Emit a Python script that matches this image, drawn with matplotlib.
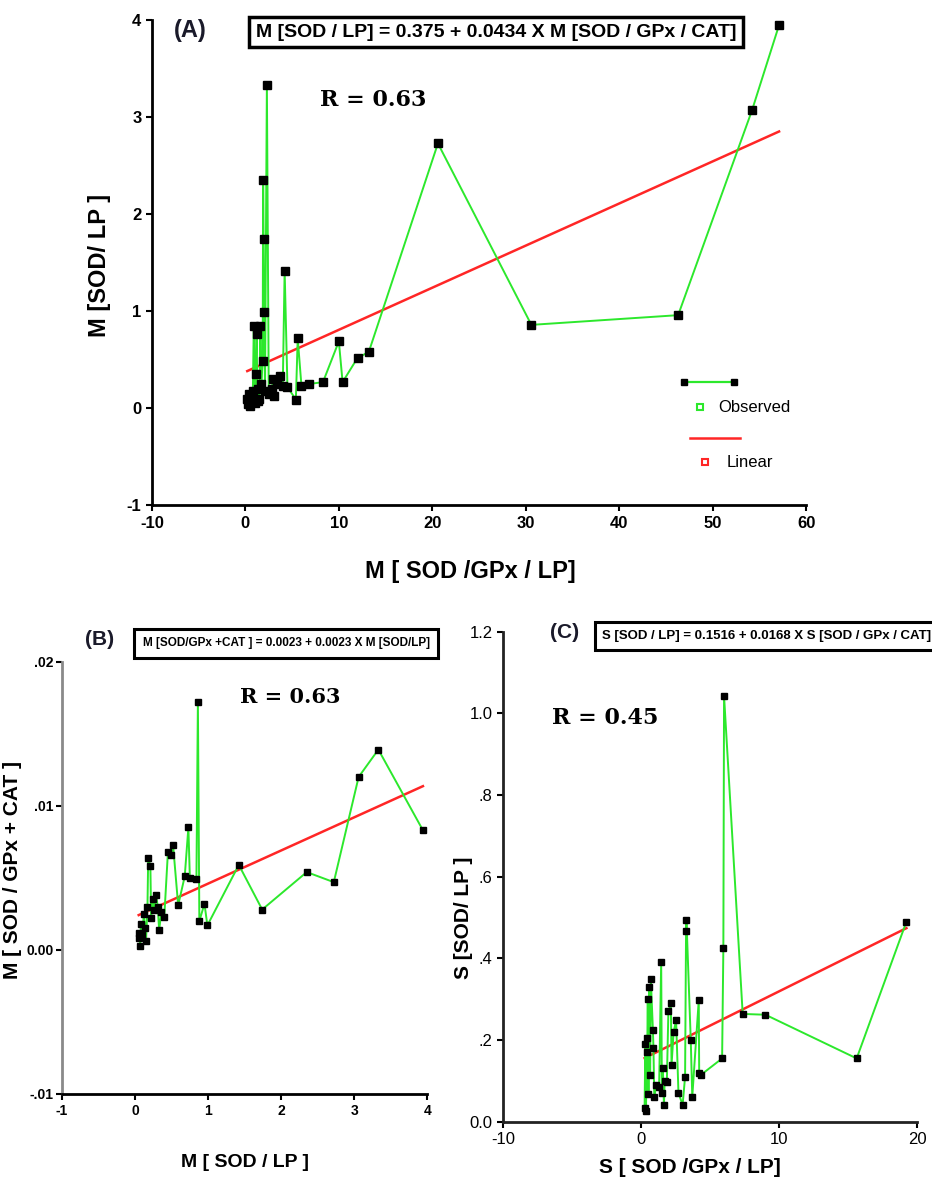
import matplotlib
matplotlib.use("Agg")
import matplotlib.pyplot as plt
import numpy as np

plt.rcParams["axes.unicode_minus"] = False

# panel A : M[SOD/GPx/LP] vs M[SOD/LP]
a_x = [0.2, 0.3, 0.4, 0.5, 0.6, 0.7, 0.8, 0.9, 1.0, 1.1,
       1.2, 1.3, 1.4, 1.5, 1.6, 1.7, 1.85, 1.9, 1.95, 2.0,
       2.1, 2.3, 2.5, 2.8, 3.0, 3.1, 3.4, 3.75, 4.0, 4.2,
       4.5, 5.4, 5.6, 6.0, 6.8, 8.3, 10.0, 10.4, 12.0, 13.2,
       20.6, 30.6, 46.3, 54.2, 57.1]
a_y = [0.10, 0.04, 0.15, 0.02, 0.12, 0.06, 0.18, 0.85, 0.05, 0.35,
       0.77, 0.08, 0.20, 0.10, 0.85, 0.25, 0.49, 2.35, 1.75, 0.99,
       0.18, 3.33, 0.15, 0.20, 0.30, 0.13, 0.25, 0.33, 0.23, 1.42,
       0.22, 0.09, 0.72, 0.23, 0.25, 0.27, 0.69, 0.27, 0.52, 0.58,
       2.73, 0.86, 0.96, 3.07, 3.95]
a_fit = (0.375, 0.0434)

# panel B : M[SOD/LP] vs M[SOD/GPx + CAT]
b_x = [0.05, 0.06, 0.07, 0.08, 0.10, 0.12, 0.14, 0.15, 0.17, 0.18,
       0.21, 0.22, 0.24, 0.26, 0.29, 0.31, 0.33, 0.36, 0.40, 0.45,
       0.49, 0.52, 0.59, 0.68, 0.73, 0.75, 0.84, 0.86, 0.88, 0.95,
       0.99, 1.42, 1.74, 2.35, 2.72, 3.06, 3.33, 3.94]
b_y = [0.0008, 0.0012, 0.0003, 0.0018, 0.0010, 0.0025, 0.0015, 0.0006, 0.0030, 0.0064,
       0.0058, 0.0022, 0.0035, 0.0028, 0.0038, 0.0030, 0.0014, 0.0026, 0.0023, 0.0068,
       0.0066, 0.0073, 0.0031, 0.0051, 0.0085, 0.0050, 0.0049, 0.0172, 0.0020, 0.0032,
       0.0017, 0.0059, 0.0028, 0.0054, 0.0047, 0.0120, 0.0139, 0.0083]
b_fit = (0.0023, 0.0023)

# panel C : S[SOD/GPx/LP] vs S[SOD/LP]
c_x = [0.25, 0.30, 0.35, 0.40, 0.45, 0.48, 0.53, 0.58, 0.65, 0.70,
       0.85, 0.89, 0.95, 1.10, 1.30, 1.45, 1.50, 1.57, 1.65, 1.70,
       1.86, 1.97, 2.15, 2.20, 2.35, 2.53, 2.70, 3.00, 3.18, 3.25,
       3.28, 3.59, 3.70, 4.17, 4.20, 4.30, 5.86, 5.95, 6.00, 7.35,
       9.00, 15.6, 19.2]
c_y = [0.034, 0.19, 0.025, 0.17, 0.204, 0.30, 0.069, 0.33, 0.114, 0.349,
       0.225, 0.18, 0.06, 0.09, 0.085, 0.392, 0.07, 0.131, 0.04, 0.10,
       0.098, 0.27, 0.29, 0.139, 0.22, 0.248, 0.071, 0.041, 0.11, 0.468,
       0.494, 0.20, 0.061, 0.298, 0.12, 0.114, 0.155, 0.425, 1.043, 0.264,
       0.262, 0.155, 0.49]
c_fit = (0.1516, 0.0168)

GREEN = "#2ce82c"
RED = "#ff2626"
SANS = ["Liberation Sans", "DejaVu Sans"]
SERIF = ["DejaVu Serif"]

fig = plt.figure(figsize=(9.32, 11.89), dpi=100)


def draw(ax, x, y, fit, msize, lw_fit):
    ax.plot(x, y, color=GREEN, lw=1.4, marker="s", ms=msize,
            mfc="black", mec="black", zorder=3)
    xs = np.array([min(x), max(x)])
    ax.plot(xs, fit[0] + fit[1] * xs, color=RED, lw=lw_fit, zorder=2)
    for s in ["top", "right"]:
        ax.spines[s].set_visible(False)
    ax.tick_params(direction="out", length=4, width=1.5)


# ---------- panel A
axA = fig.add_axes([0.163, 0.575, 0.702, 0.408])
draw(axA, a_x, a_y, a_fit, 6, 1.8)
axA.set_xlim(-10, 60)
axA.set_ylim(-1, 4)
axA.set_xticks([-10, 0, 10, 20, 30, 40, 50, 60])
axA.set_yticks([-1, 0, 1, 2, 3, 4])
for s in ["left", "bottom"]:
    axA.spines[s].set_linewidth(2)
for lab in axA.get_xticklabels() + axA.get_yticklabels():
    lab.set_fontfamily(SANS)
    lab.set_fontweight("bold")
    lab.set_fontsize(12)

# legend drawn in axes space
tA = axA.transAxes
axA.plot([0.813, 0.890], [0.254, 0.254], color=GREEN, lw=1.6, marker="s",
         ms=5, mfc="black", mec="black", transform=tA, clip_on=False)
axA.plot([0.838], [0.202], marker="s", ms=5, mfc="white", mec=GREEN, mew=1.5,
         transform=tA, clip_on=False)
axA.text(0.866, 0.202, "Observed", transform=tA, fontsize=12, family=SANS,
         va="center", ha="left")
axA.plot([0.823, 0.899], [0.138, 0.138], color=RED, lw=1.8, transform=tA,
         clip_on=False)
axA.plot([0.846], [0.089], marker="s", ms=5, mfc="white", mec=RED, mew=1.5,
         transform=tA, clip_on=False)
axA.text(0.879, 0.089, "Linear", transform=tA, fontsize=12, family=SANS,
         va="center", ha="left")

fig.text(0.505, 0.519, "M [ SOD /GPx / LP]", fontsize=17, fontweight="bold",
         family=SANS, ha="center", va="center")
fig.text(0.107, 0.777, "M [SOD/ LP ]", fontsize=17, fontweight="bold",
         family=SANS, ha="center", va="center", rotation=90)
fig.text(0.204, 0.974, "(A)", fontsize=17, fontweight="bold", family=SANS,
         color="#1a1a2a", ha="center", va="center")
fig.text(0.532, 0.973, "M [SOD / LP] = 0.375 + 0.0434 X M [SOD / GPx / CAT]",
         fontsize=14, fontweight="bold", family=SANS, ha="center", va="center",
         bbox=dict(boxstyle="square,pad=0.35", fc="white", ec="black", lw=2.5))
fig.text(0.400, 0.916, "R = 0.63", fontsize=16, fontweight="bold", family=SERIF,
         ha="center", va="center")

# ---------- panel B
axB = fig.add_axes([0.0665, 0.0799, 0.392, 0.3636])
draw(axB, b_x, b_y, b_fit, 4, 1.8)
axB.set_xlim(-1, 4)
axB.set_ylim(-0.01, 0.02)
axB.set_xticks([-1, 0, 1, 2, 3, 4])
axB.set_yticks([-0.01, 0.0, 0.01, 0.02])
axB.set_yticklabels(["-.01", "0.00", ".01", ".02"])
axB.spines["left"].set_color("#8a8a8a")
axB.spines["left"].set_linewidth(2)
axB.spines["bottom"].set_linewidth(2)
axB.tick_params(axis="y", pad=2)
for lab in axB.get_xticklabels() + axB.get_yticklabels():
    lab.set_fontfamily(SANS)
    lab.set_fontweight("bold")
    lab.set_fontsize(10)
fig.text(0.263, 0.022, "M [ SOD / LP ]", fontsize=14, fontweight="bold",
         family=SANS, ha="center", va="center")
fig.text(0.013, 0.268, "M [ SOD / GPx + CAT ]", fontsize=15, fontweight="bold",
         family=SANS, ha="center", va="center", rotation=90)
fig.text(0.107, 0.462, "(B)", fontsize=15, fontweight="bold", family=SANS,
         color="#1a1a2a", ha="center", va="center")
fig.text(0.307, 0.459, "M [SOD/GPx +CAT ] = 0.0023 + 0.0023 X M [SOD/LP]",
         fontsize=8.5, fontweight="bold", family=SANS, ha="center", va="center",
         bbox=dict(boxstyle="square,pad=0.7", fc="white", ec="black", lw=2.2))
fig.text(0.311, 0.414, "R = 0.63", fontsize=15, fontweight="bold", family=SERIF,
         ha="center", va="center")

# ---------- panel C
axC = fig.add_axes([0.5397, 0.0566, 0.4447, 0.412])
draw(axC, c_x, c_y, c_fit, 4, 1.8)
axC.set_xlim(-10, 20)
axC.set_ylim(0, 1.2)
axC.set_xticks([-10, 0, 10, 20])
axC.set_yticks([0.0, 0.2, 0.4, 0.6, 0.8, 1.0, 1.2])
axC.set_yticklabels(["0.0", ".2", ".4", ".6", ".8", "1.0", "1.2"])
for s in ["left", "bottom"]:
    axC.spines[s].set_linewidth(2)
    axC.spines[s].set_color("#222222")
for lab in axC.get_xticklabels() + axC.get_yticklabels():
    lab.set_fontfamily(SANS)
    lab.set_fontsize(12)
fig.text(0.740, 0.018, "S [ SOD /GPx / LP]", fontsize=15, fontweight="bold",
         family=SANS, ha="center", va="center")
fig.text(0.497, 0.228, "S [SOD/ LP ]", fontsize=15, fontweight="bold",
         family=SANS, ha="center", va="center", rotation=90)
fig.text(0.606, 0.468, "(C)", fontsize=15, fontweight="bold", family=SANS,
         color="#1a1a2a", ha="center", va="center")
fig.text(0.823, 0.465, "S [SOD / LP] = 0.1516 + 0.0168 X S [SOD / GPx / CAT]",
         fontsize=9.5, fontweight="bold", family=SANS, ha="center", va="center",
         bbox=dict(boxstyle="square,pad=0.6", fc="white", ec="black", lw=2.2))
fig.text(0.649, 0.396, "R = 0.45", fontsize=16, fontweight="bold", family=SERIF,
         ha="center", va="center")

fig.savefig("out.png", dpi=100)
